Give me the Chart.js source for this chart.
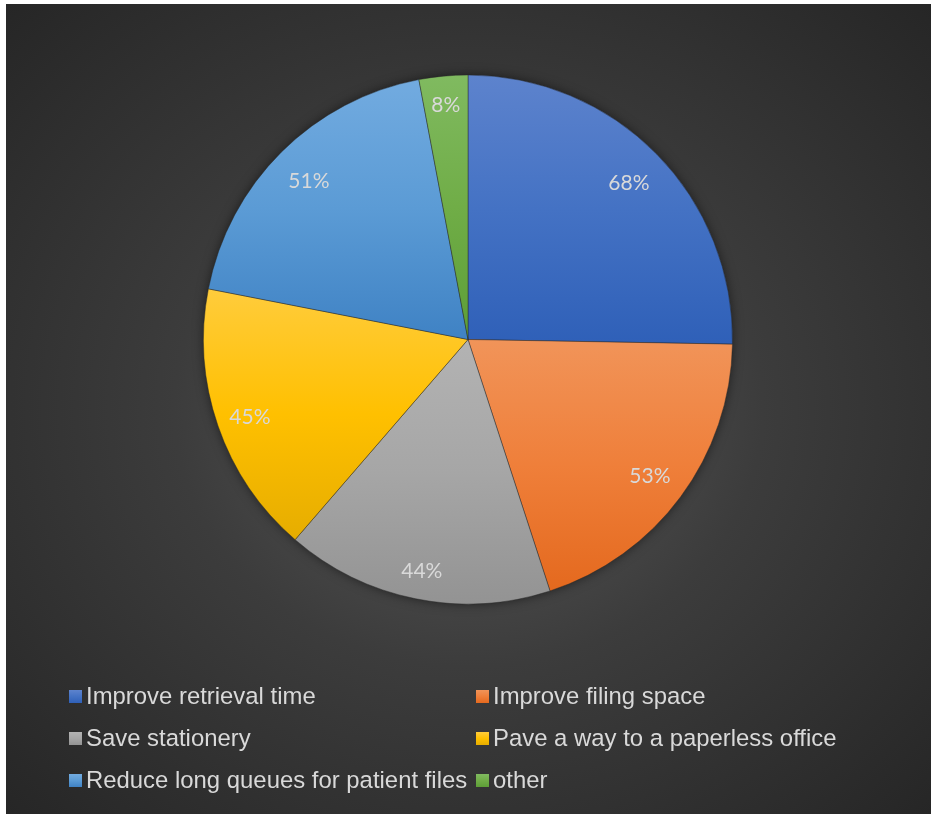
<!DOCTYPE html>
<html>
<head>
<meta charset="utf-8">
<title>Benefits of an electronic filing system</title>
<script src="https://cdn.jsdelivr.net/npm/chart.js@4/dist/chart.umd.min.js"></script>
<style>
  html, body { margin: 0; padding: 0; background: #ffffff; }
  #wrap {
    position: absolute; left: 6px; top: 4px; width: 925px; height: 810px;
    background: radial-gradient(ellipse farthest-corner at 50% 50%, #5a5a5a 0%, #3c3c3c 45%, #262626 100%);
    overflow: hidden;
  }
  #pie { position: absolute; left: 0; top: 0; }
  .lg-item {
    position: absolute; display: flex; align-items: center; height: 30px;
    font-family: "Liberation Sans", Arial, sans-serif; font-size: 23.9px; color: #d9d9d9;
    white-space: nowrap;
  }
  .lg-box { width: 13px; height: 13px; margin-right: 4px; flex: none; }
</style>
</head>
<body>
<div id="wrap">
  <canvas id="pie" width="925" height="810"></canvas>
  <div id="legend"></div>
</div>
<script>
// Reasons given for moving to electronic records (share of respondents, %)
const categories = [
  "Improve retrieval time",
  "Improve filing space",
  "Save stationery",
  "Pave a way to a paperless office",
  "Reduce long queues for patient files",
  "other"
];
const percentValues = [68, 53, 44, 45, 51, 8];

// Office-style slice shading: light top, base middle, darker bottom
const palette = [
  ["#5d83cd", "#4472c4", "#2f60b8"],
  ["#f19459", "#ef7f3a", "#e4691e"],
  ["#b3b3b3", "#a6a6a6", "#939393"],
  ["#ffcc3c", "#ffc000", "#e6ad00"],
  ["#72abe0", "#5b9bd5", "#3f82c4"],
  ["#80ba60", "#70ad47", "#5d9e37"]
];

// vertical extent of one pie slice, used to stretch its gradient
function sliceExtent(chart, index) {
  const ca = chart.chartArea;
  const cx = (ca.left + ca.right) / 2, cy = (ca.top + ca.bottom) / 2;
  const r = Math.min(ca.right - ca.left, ca.bottom - ca.top) / 2;
  const total = percentValues.reduce((a, b) => a + b, 0);
  let before = 0;
  for (let i = 0; i < index; i++) before += percentValues[i];
  const a0 = -Math.PI / 2 + 2 * Math.PI * before / total;
  const a1 = a0 + 2 * Math.PI * percentValues[index] / total;
  let ys = [cy, cy + Math.sin(a0) * r, cy + Math.sin(a1) * r];
  for (let k = -1; k <= 2; k++) {
    const t = Math.PI / 2 + k * Math.PI;
    if (t > a0 && t < a1) ys.push(cy + Math.sin(t) * r);
  }
  return [Math.min(...ys), Math.max(...ys)];
}

function sliceFill(c) {
  const chart = c.chart;
  const stops = palette[c.dataIndex % palette.length];
  if (!chart.chartArea) return stops[1];
  const [y0, y1] = sliceExtent(chart, c.dataIndex);
  const g = chart.ctx.createLinearGradient(0, y0, 0, y1);
  g.addColorStop(0, stops[0]);
  g.addColorStop(0.5, stops[1]);
  g.addColorStop(1, stops[2]);
  return g;
}

// soft shadow behind the whole pie
const pieShadow = {
  id: "pieShadow",
  beforeDatasetsDraw(chart) {
    const arc = chart.getDatasetMeta(0).data[0];
    if (!arc) return;
    const { x, y, outerRadius } = arc.getProps(["x", "y", "outerRadius"], true);
    const ctx = chart.ctx;
    ctx.save();
    ctx.shadowColor = "rgba(0,0,0,0.6)";
    ctx.shadowBlur = 12;
    ctx.beginPath();
    ctx.arc(x, y, outerRadius - 1, 0, Math.PI * 2);
    ctx.fillStyle = "#303030";
    ctx.fill();
    ctx.restore();
  }
};

// percentage labels placed just inside each slice's outer edge
const insideEndLabels = {
  id: "insideEndLabels",
  afterDatasetsDraw(chart) {
    const ctx = chart.ctx;
    const meta = chart.getDatasetMeta(0);
    ctx.save();
    ctx.font = "21px Lato, 'Open Sans', sans-serif";
    ctx.fillStyle = "#d9d9d9";
    ctx.textAlign = "center";
    ctx.textBaseline = "middle";
    meta.data.forEach((arc, i) => {
      const p = arc.getProps(["x", "y", "startAngle", "endAngle", "outerRadius"], true);
      const mid = (p.startAngle + p.endAngle) / 2;
      const theta = mid + Math.PI / 2;
      const text = percentValues[i] + "%";
      const d = p.outerRadius + 12 - 36 * (Math.abs(Math.sin(theta)) + Math.abs(Math.cos(theta)));
      ctx.fillText(text, p.x + Math.cos(mid) * d, p.y + Math.sin(mid) * d + 2);
    });
    ctx.restore();
  }
};

new Chart(document.getElementById("pie"), {
  type: "pie",
  data: {
    labels: categories,
    datasets: [{
      data: percentValues,
      backgroundColor: sliceFill,
      borderColor: "rgba(40,40,40,0.45)",
      borderWidth: 1,
      hoverOffset: 0
    }]
  },
  options: {
    responsive: false,
    devicePixelRatio: 1,
    animation: false,
    layout: { padding: { left: 197, top: 70, right: 198, bottom: 209 } },
    plugins: {
      legend: { display: false },
      tooltip: { enabled: false }
    }
  },
  plugins: [pieShadow, insideEndLabels]
});

// two-column legend beneath the pie
const legend = document.getElementById("legend");
const colX = [63, 470];
const rowY = [677, 719, 761];
categories.forEach((name, i) => {
  const item = document.createElement("div");
  item.className = "lg-item";
  item.style.left = colX[i % 2] + "px";
  item.style.top = rowY[Math.floor(i / 2)] + "px";
  const box = document.createElement("span");
  box.className = "lg-box";
  const s = palette[i];
  box.style.background = "linear-gradient(" + s[0] + "," + s[1] + " 50%," + s[2] + ")";
  const label = document.createElement("span");
  label.textContent = name;
  item.appendChild(box);
  item.appendChild(label);
  legend.appendChild(item);
});
</script>
</body>
</html>
